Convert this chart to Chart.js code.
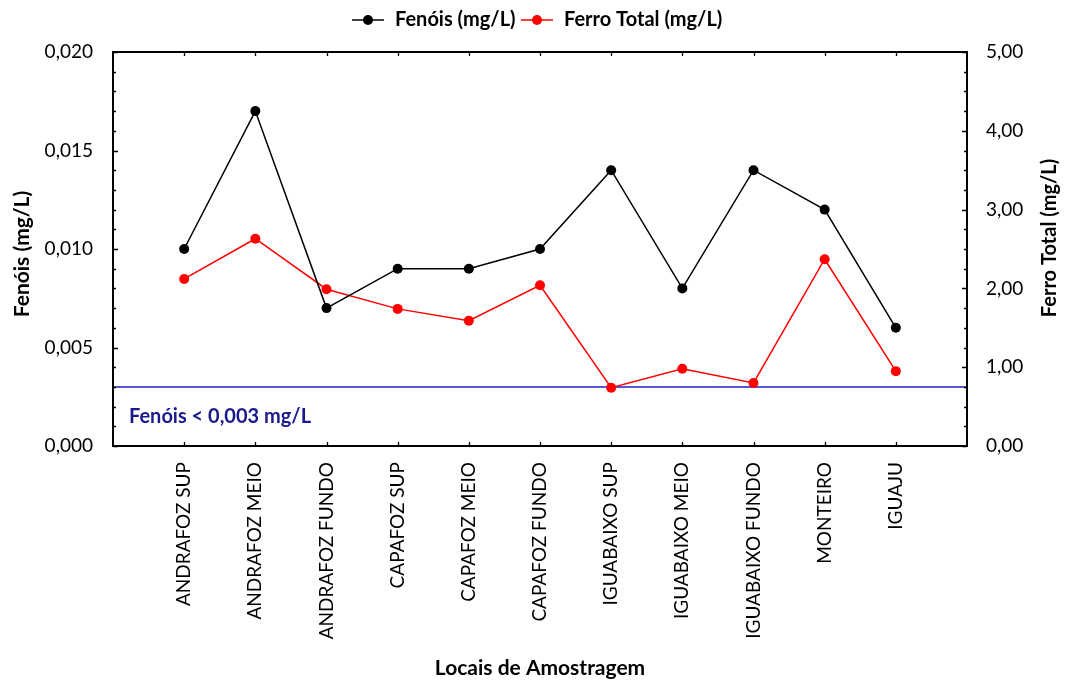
<!DOCTYPE html>
<html>
<head>
<meta charset="utf-8">
<script src="https://cdn.jsdelivr.net/npm/chart.js@4.4.1/dist/chart.umd.min.js"></script>
<style>
  html, body { margin: 0; padding: 0; background: #fff; }
  #wrap { width: 1065px; height: 682px; }
</style>
</head>
<body>
<div id="wrap"><canvas id="c" width="1065" height="682"></canvas></div>
<script>
// ---- data ----
const categories = ['ANDRAFOZ SUP', 'ANDRAFOZ MEIO', 'ANDRAFOZ FUNDO', 'CAPAFOZ SUP', 'CAPAFOZ MEIO',
  'CAPAFOZ FUNDO', 'IGUABAIXO SUP', 'IGUABAIXO MEIO', 'IGUABAIXO FUNDO', 'MONTEIRO', 'IGUAJU'];
const fenois = [0.010, 0.017, 0.007, 0.009, 0.009, 0.010, 0.014, 0.008, 0.014, 0.012, 0.006];
const ferroTotal = [2.12, 2.63, 1.99, 1.74, 1.59, 2.04, 0.74, 0.98, 0.80, 2.37, 0.95];
const fenoisLimit = 0.003;
const leftTicks = [0, 0.005, 0.010, 0.015, 0.020];
const rightTicks = [0, 1, 2, 3, 4, 5];

const seriesNames = ['Fenóis (mg/L)', 'Ferro Total (mg/L)'];
const xTitle = 'Locais de Amostragem';
const limitLabel = 'Fenóis < 0,003 mg/L';

// pad with empty slots at both ends
const labels = [''].concat(categories, ['']);
const pad = arr => [null].concat(arr, [null]);
const limitLine = labels.map(() => fenoisLimit);

const FONT = 'Lato, "Open Sans", sans-serif';

const decorations = {
  id: 'decorations',
  afterDraw(chart) {
    const ctx = chart.ctx;
    const a = chart.chartArea;
    const x = chart.scales.x, yL = chart.scales.yL, yR = chart.scales.yR;
    ctx.save();
    // frame
    ctx.strokeStyle = '#000';
    ctx.lineWidth = 2;
    ctx.strokeRect(a.left, a.top, a.right - a.left, a.bottom - a.top);
    ctx.lineWidth = 1.3;
    ctx.beginPath();
    // category ticks, bottom and top (inward)
    for (let i = 1; i <= categories.length; i++) {
      const px = Math.round(x.getPixelForValue(i)) + 0.5;
      ctx.moveTo(px, a.bottom); ctx.lineTo(px, a.bottom - 4);
      ctx.moveTo(px, a.top); ctx.lineTo(px, a.top + 4);
    }
    // left axis ticks
    for (let k = 0; k <= 20; k++) {
      const v = k * 0.001;
      const py = Math.round(yL.getPixelForValue(v)) + 0.5;
      const len = (k % 5 === 0) ? 5 : 3;
      ctx.moveTo(a.left, py); ctx.lineTo(a.left + len, py);
    }
    // right axis ticks
    for (let k = 0; k <= 20; k++) {
      const v = k * 0.25;
      const py = Math.round(yR.getPixelForValue(v)) + 0.5;
      const len = (k % 4 === 0) ? 5 : 3;
      ctx.moveTo(a.right, py); ctx.lineTo(a.right - len, py);
    }
    ctx.stroke();

    // limit label
    ctx.fillStyle = '#1a1a8c';
    ctx.font = 'bold 20px ' + FONT;
    ctx.textAlign = 'left';
    ctx.textBaseline = 'middle';
    ctx.fillText(limitLabel, a.left + 16, yL.getPixelForValue(0.0015));

    // axis titles
    ctx.fillStyle = '#000';
    ctx.font = 'bold 21px ' + FONT;
    ctx.textAlign = 'center';
    ctx.textBaseline = 'middle';
    ctx.fillText(xTitle, (a.left + a.right) / 2, 668);
    ctx.save();
    ctx.translate(22, 254);
    ctx.rotate(-Math.PI / 2);
    ctx.fillText(seriesNames[0], 0, 0);
    ctx.restore();
    ctx.font = 'bold 20px ' + FONT;
    ctx.save();
    ctx.translate(1050, 238);
    ctx.rotate(-Math.PI / 2);
    ctx.fillText(seriesNames[1], 0, 0);
    ctx.restore();

    // legend
    ctx.font = 'bold 20px ' + FONT;
    ctx.textAlign = 'left';
    const ly = 20;
    const items = [
      { name: seriesNames[0], color: '#000', x0: 352 },
      { name: seriesNames[1], color: '#ff0000', x0: 521 }
    ];
    items.forEach(it => {
      ctx.strokeStyle = it.color;
      ctx.lineWidth = 1.5;
      ctx.beginPath();
      ctx.moveTo(it.x0, ly); ctx.lineTo(it.x0 + 32, ly);
      ctx.stroke();
      ctx.fillStyle = it.color;
      ctx.beginPath();
      ctx.arc(it.x0 + 16, ly, 5, 0, Math.PI * 2);
      ctx.fill();
      ctx.fillStyle = '#000';
      ctx.fillText(it.name, it.x0 + 43, ly);
    });
    ctx.restore();
  }
};

new Chart(document.getElementById('c'), {
  type: 'line',
  data: {
    labels: labels,
    datasets: [
      {
        label: seriesNames[0], data: pad(fenois), yAxisID: 'yL',
        borderColor: '#000', backgroundColor: '#000', borderWidth: 1.5,
        pointRadius: 5, pointBackgroundColor: '#000', pointBorderWidth: 0, tension: 0
      },
      {
        label: seriesNames[1], data: pad(ferroTotal), yAxisID: 'yR',
        borderColor: '#ff0000', backgroundColor: '#ff0000', borderWidth: 1.5,
        pointRadius: 5, pointBackgroundColor: '#ff0000', pointBorderWidth: 0, tension: 0
      },
      {
        label: 'limit', data: limitLine, yAxisID: 'yL',
        borderColor: '#1f1fc8', borderWidth: 1.5, pointRadius: 0, tension: 0
      }
    ]
  },
  options: {
    responsive: false,
    animation: false,
    layout: { padding: { top: 52, left: 0, right: 0, bottom: 0 } },
    plugins: { legend: { display: false }, tooltip: { enabled: false } },
    scales: {
      x: {
        type: 'category',
        offset: false,
        grid: { display: false },
        border: { display: false },
        ticks: {
          autoSkip: false, minRotation: 90, maxRotation: 90,
          color: '#000', padding: 8,
          font: { family: FONT, size: 19 }
        },
        afterFit(s) { s.height = 236; }
      },
      yL: {
        position: 'left',
        min: 0, max: 0.02,
        grid: { display: false },
        border: { display: false },
        afterBuildTicks(s) { s.ticks = leftTicks.map(v => ({ value: v })); },
        ticks: {
          color: '#000', padding: 12,
          font: { family: FONT, size: 19 },
          callback: v => v.toFixed(3).replace('.', ',')
        },
        afterFit(s) { s.width = 113; }
      },
      yR: {
        position: 'right',
        min: 0, max: 5,
        grid: { display: false },
        border: { display: false },
        afterBuildTicks(s) { s.ticks = rightTicks.map(v => ({ value: v })); },
        ticks: {
          color: '#000', padding: 11,
          font: { family: FONT, size: 19 },
          callback: v => v.toFixed(2).replace('.', ',')
        },
        afterFit(s) { s.width = 98; }
      }
    }
  },
  plugins: [decorations]
});
</script>
</body>
</html>
